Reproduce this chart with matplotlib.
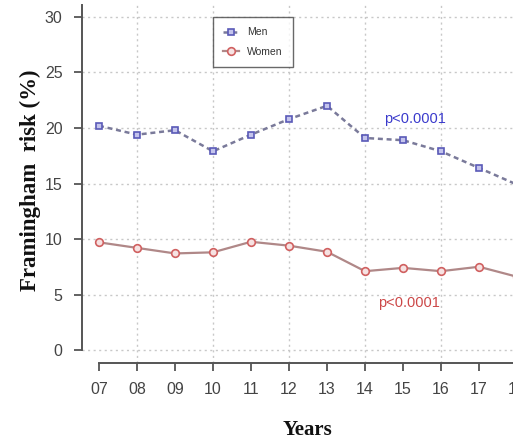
import matplotlib
matplotlib.use('Agg')
import matplotlib.pyplot as plt
from matplotlib import font_manager

# data
years = [7, 8, 9, 10, 11, 12, 13, 14, 15, 16, 17, 18]
year_labels = ['07', '08', '09', '10', '11', '12', '13', '14', '15', '16', '17', '18']
men = [20.2, 19.4, 19.8, 17.9, 19.4, 20.8, 22.0, 19.1, 18.9, 17.9, 16.4, 14.9]
women = [9.7, 9.2, 8.7, 8.8, 9.75, 9.4, 8.85, 7.1, 7.4, 7.1, 7.5, 6.6]
y_ticks = [0, 5, 10, 15, 20, 25, 30]

names = {f.name for f in font_manager.fontManager.ttflist}
tick_font = 'Liberation Sans Narrow' if 'Liberation Sans Narrow' in names else 'Liberation Sans'

W, H = 513, 447
fig = plt.figure(figsize=(W / 100, H / 100), dpi=100)
# axes run past the right edge, like the cropped original
ax = fig.add_axes([82 / W, (H - 363) / H, (534 - 82) / W, (363 - 5) / H])
ax.set_xlim(6.553, 18.447)
ax.set_ylim(-1.17, 31.08)

grid_kw = dict(color='#c8c8c8', lw=1.0, ls=(0, (1.5, 2.5)), zorder=0)
for yv in y_ticks:
    ax.axhline(yv, **grid_kw)
for xv in years[1::2]:
    ax.axvline(xv, **grid_kw)

ax.plot(years, men, color='#7a7a9a', lw=1.8, ls=(0, (2, 1.5)),
        marker='s', ms=5, mfc='#c4c4ec', mec='#5a5ab8', mew=1.2, label='Men', zorder=3)
ax.plot(years, women, color='#b08888', lw=1.6, ls='-',
        marker='o', ms=5.5, mfc='#f6e2e2', mec='#d06060', mew=1.2, label='Women', zorder=3)

ax.text(14.5, 20.8, 'p<0.0001', color='#3a3acc', fontsize=10.5,
        family='Liberation Sans', ha='left', va='center')
ax.text(14.35, 4.2, 'p<0.0001', color='#cc4848', fontsize=10.5,
        family='Liberation Sans', ha='left', va='center')

for s in ['top', 'right']:
    ax.spines[s].set_visible(False)
ax.spines['left'].set_bounds(0, 31.08)
ax.spines['bottom'].set_bounds(7, 18.447)
for s in ['left', 'bottom']:
    ax.spines[s].set_color('#555555')
    ax.spines[s].set_linewidth(1.4)

ax.set_xticks(years)
ax.set_xticklabels(year_labels)
ax.set_yticks(y_ticks)
ax.tick_params(axis='both', direction='out', length=6, width=1.3, color='#555555',
               labelcolor='#444444', labelsize=11.5, pad=8)
for lab in ax.get_xticklabels() + ax.get_yticklabels():
    lab.set_family(tick_font)

leg = ax.legend(loc='upper left', bbox_to_anchor=(213 / W, (H - 17) / H),
                bbox_transform=fig.transFigure, fontsize=7.5, frameon=True,
                fancybox=False, handlelength=1.5, labelspacing=0.9,
                borderpad=1.0, handletextpad=0.8, borderaxespad=0)
leg.get_frame().set_edgecolor('#444444')
leg.get_frame().set_linewidth(1.0)
for t in leg.get_texts():
    t.set_family('Liberation Sans')
    t.set_color('#333333')

fig.text(30 / W, (H - 180) / H, 'Framingham  risk (%)', rotation=90,
         family='Liberation Serif', weight='bold', fontsize=16.5,
         ha='center', va='center', color='#111111')
fig.text(307 / W, (H - 430) / H, 'Years', family='Liberation Serif',
         weight='bold', fontsize=15, ha='center', va='center', color='#111111')

fig.savefig('out.png', dpi=100)
